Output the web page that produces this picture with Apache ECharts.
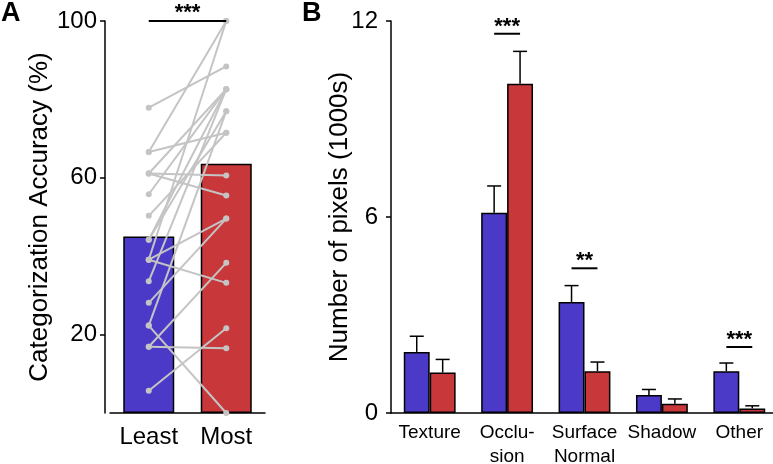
<!DOCTYPE html>
<html>
<head>
<meta charset="utf-8">
<script src="https://cdn.jsdelivr.net/npm/echarts@6/dist/echarts.min.js"></script>
<style>html,body{margin:0;padding:0;background:#fff}#c{width:773px;height:464px}</style>
</head>
<body>
<div id="c"></div>
<script>
// Panel A data
const groupsA = ['Least', 'Most'];
const meanA = [45.0, 63.6];
const subjLeast = [77.9, 66.6, 66.6, 61.1, 61.1, 61.1, 55.8, 50.3, 44.2, 44.2, 39.1, 39.1, 39.1, 33.6, 28.1, 22.3, 22.3, 16.9, 16.9, 5.7];
const subjMost  = [88.4, 71.5, 100, 60.6, 55.5, 82.6, 82.6, 71.5, 82.6, 77.0, 100, 49.6, 33.2, 82.6, 49.6, 0, 77.0, 16.5, 38.3, 21.6];
const ticksA = [20, 60, 100];
const sigA = [[0, 1, 100, '***']];

// Panel B data
const catsB = ['Texture', 'Occlu-\nsion', 'Surface\nNormal', 'Shadow', 'Other'];
const blueB = [1.87, 6.13, 3.40, 0.55, 1.28];
const redB = [1.24, 10.08, 1.28, 0.28, 0.14];
const blueErrB = [0.48, 0.82, 0.50, 0.17, 0.25];
const redErrB = [0.40, 0.99, 0.28, 0.15, 0.08];
const sigB = [[1, 11.61, '***'], [2, 4.43, '**'], [4, 2.02, '***']];

const BLUE = '#4b3ac8';
const RED = '#c8373a';
const GREY = '#c4c4c4';
const FONT = 'Liberation Sans, Arial, Helvetica, sans-serif';
const CAT_GAP = 0.33;

const chart = echarts.init(document.getElementById('c'), null, {renderer: 'canvas'});

const lineSeries = subjLeast.map((l, i) => ({
  type: 'line', xAxisIndex: 0, yAxisIndex: 0,
  data: [l, subjMost[i]],
  symbol: 'circle', symbolSize: 6,
  lineStyle: {color: GREY, width: 2},
  itemStyle: {color: GREY},
  silent: true, z: 3, animation: false
}));

function errRender(params, api) {
  const ci = api.value(0), v = api.value(1), e = api.value(2), side = api.value(3);
  const bw = api.size([1, 0])[0];
  const p0 = api.coord([ci, v]);
  const p1 = api.coord([ci, v + e]);
  const x = p0[0] + side * bw * (1 - CAT_GAP) / 4;
  const cap = 7;
  return {type: 'group', children: [
    {type: 'line', shape: {x1: x, y1: p0[1], x2: x, y2: p1[1]}, style: {stroke: '#000', lineWidth: 1.5}},
    {type: 'line', shape: {x1: x - cap, y1: p1[1], x2: x + cap, y2: p1[1]}, style: {stroke: '#000', lineWidth: 1.5}}
  ]};
}

function sigRenderB(params, api) {
  const ci = api.value(0), v = api.value(1);
  const bw = api.size([1, 0])[0];
  const p = api.coord([ci, v]);
  const off = bw * (1 - CAT_GAP) / 4;
  return {type: 'group', children: [
    {type: 'line', shape: {x1: p[0] - off, y1: p[1], x2: p[0] + off, y2: p[1]}, style: {stroke: '#000', lineWidth: 2}},
    {type: 'text', style: {text: sigB[params.dataIndex][2], x: p[0], y: p[1] - 7, align: 'center', verticalAlign: 'middle', font: 'bold 22px ' + FONT, fill: '#000'}}
  ]};
}

function sigRenderA(params, api) {
  const a = api.coord([api.value(0), api.value(2)]);
  const b = api.coord([api.value(1), api.value(2)]);
  return {type: 'group', children: [
    {type: 'line', shape: {x1: a[0], y1: a[1], x2: b[0], y2: b[1]}, style: {stroke: '#000', lineWidth: 2}},
    {type: 'text', style: {text: sigA[params.dataIndex][3], x: (a[0] + b[0]) / 2, y: a[1] - 8, align: 'center', verticalAlign: 'middle', font: 'bold 22px ' + FONT, fill: '#000'}}
  ]};
}

const axisLine = {show: true, lineStyle: {color: '#000', width: 1.5}};

const option = {
  animation: false,
  textStyle: {fontFamily: FONT},
  graphic: [
    {type: 'text', left: 1, top: 0, style: {text: 'A', font: 'bold 27px ' + FONT, fill: '#000'}},
    {type: 'text', left: 302, top: 0, style: {text: 'B', font: 'bold 27px ' + FONT, fill: '#000'}}
  ],
  grid: [
    {left: 110, top: 21, width: 155, height: 392, containLabel: false, outerBoundsMode: 'none'},
    {left: 391, top: 21, width: 387, height: 392, containLabel: false, outerBoundsMode: 'none'}
  ],
  xAxis: [
    {type: 'category', gridIndex: 0, data: groupsA, axisLine: axisLine, axisTick: {show: false},
     axisLabel: {color: '#000', fontSize: 24, margin: 12, fontFamily: FONT}},
    {type: 'category', gridIndex: 1, data: catsB, axisLine: axisLine, axisTick: {show: false},
     axisLabel: {color: '#000', fontSize: 19, lineHeight: 24, margin: 8, interval: 0, fontFamily: FONT}}
  ],
  yAxis: [
    {type: 'value', gridIndex: 0, min: 0, max: 100, offset: 5,
     name: 'Categorization Accuracy (%)', nameLocation: 'middle', nameGap: 52, nameMoveOverlap: false,
     nameTextStyle: {color: '#000', fontSize: 26, fontFamily: FONT},
     axisLine: axisLine, splitLine: {show: false},
     axisTick: {show: true, length: 5, customValues: ticksA, lineStyle: {color: '#000', width: 1.5}},
     axisLabel: {color: '#000', fontSize: 24, margin: 8, customValues: ticksA, fontFamily: FONT}},
    {type: 'value', gridIndex: 1, min: 0, max: 12, interval: 6,
     name: 'Number of pixels (1000s)', nameLocation: 'middle', nameGap: 38, nameMoveOverlap: false,
     nameTextStyle: {color: '#000', fontSize: 26, fontFamily: FONT},
     axisLine: axisLine, splitLine: {show: false},
     axisTick: {show: true, length: 5, lineStyle: {color: '#000', width: 1.5}},
     axisLabel: {color: '#000', fontSize: 24, margin: 13, fontFamily: FONT}}
  ],
  series: [
    {type: 'bar', xAxisIndex: 0, yAxisIndex: 0, barWidth: 51,
     data: meanA.map((v, i) => ({value: v, itemStyle: {color: i === 0 ? BLUE : RED}})),
     itemStyle: {borderColor: '#000', borderWidth: 1.5}, z: 2, silent: true},
    ...lineSeries,
    {type: 'custom', xAxisIndex: 0, yAxisIndex: 0, renderItem: sigRenderA,
     data: sigA.map(d => [d[0], d[1], d[2]]), z: 5, silent: true, clip: false},
    {type: 'bar', xAxisIndex: 1, yAxisIndex: 1, data: blueB, barGap: '0%', barCategoryGap: (CAT_GAP * 100) + '%',
     itemStyle: {color: BLUE, borderColor: '#000', borderWidth: 1.5}, silent: true},
    {type: 'bar', xAxisIndex: 1, yAxisIndex: 1, data: redB, barGap: '0%', barCategoryGap: (CAT_GAP * 100) + '%',
     itemStyle: {color: RED, borderColor: '#000', borderWidth: 1.5}, silent: true},
    {type: 'custom', xAxisIndex: 1, yAxisIndex: 1, renderItem: errRender, silent: true, clip: false, z: 1,
     data: catsB.map((c, i) => [i, blueB[i], blueErrB[i], -1]).concat(catsB.map((c, i) => [i, redB[i], redErrB[i], 1]))},
    {type: 'custom', xAxisIndex: 1, yAxisIndex: 1, renderItem: sigRenderB, silent: true, clip: false, z: 5,
     data: sigB.map(d => [d[0], d[1]])}
  ]
};
chart.setOption(option);
</script>
</body>
</html>
